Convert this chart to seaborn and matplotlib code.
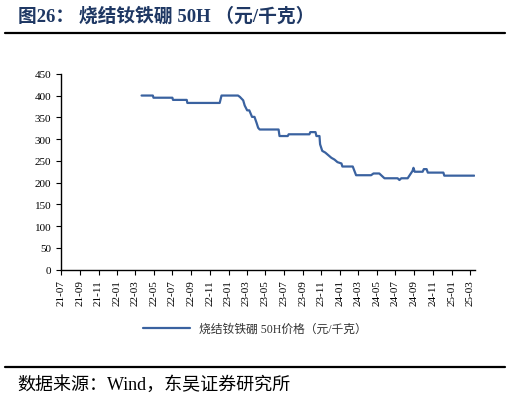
import pandas as pd
import seaborn as sns
import numpy as np
import matplotlib.pyplot as plt
import matplotlib.dates as mdates

# price of sintered NdFeB 50H
dates = ['2022-03-22', '2022-04-28', '2022-04-30', '2022-07-01', '2022-07-03',
         '2022-08-17', '2022-08-19', '2022-12-03', '2022-12-09', '2023-02-01',
         '2023-02-07', '2023-02-18', '2023-02-23', '2023-03-03', '2023-03-10',
         '2023-03-19', '2023-03-27', '2023-04-03', '2023-04-08', '2023-04-13',
         '2023-06-14', '2023-06-17', '2023-07-14', '2023-07-17', '2023-09-23',
         '2023-09-26', '2023-10-13', '2023-10-16', '2023-10-26', '2023-10-28',
         '2023-11-04', '2023-11-14', '2023-11-24', '2023-12-04', '2023-12-14',
         '2023-12-24', '2024-01-06', '2024-01-09', '2024-02-12', '2024-02-23',
         '2024-04-12', '2024-04-20', '2024-05-09', '2024-05-26', '2024-07-08',
         '2024-07-14', '2024-07-20', '2024-08-10', '2024-08-26', '2024-08-29',
         '2024-09-02', '2024-09-28', '2024-10-02', '2024-10-11', '2024-10-15',
         '2024-12-05', '2024-12-08', '2025-03-16']
prices = [400, 400, 395, 395, 390,
          390, 383, 383, 400, 400,
          397, 389, 377, 366, 366,
          351, 351, 337, 326, 322,
          322, 307, 307, 311, 311,
          316, 316, 307, 307, 288,
          273, 269, 263, 257, 253,
          247, 244, 237, 237, 217,
          217, 221, 221, 210, 210,
          206, 210, 210, 227, 234,
          225, 225, 231, 231, 223,
          223, 216, 216]

title = '图26： 烧结钕铁硼 50H （元/千克）'
series_name = '烧结钕铁硼 50H价格（元/千克）'
source = '数据来源：Wind，东吴证券研究所'

df = pd.DataFrame({'date': pd.to_datetime(dates), 'price': prices})

sns.set_style('ticks')
plt.rcParams['font.family'] = ['Liberation Serif', 'Noto Sans CJK SC', 'DejaVu Sans']

fig = plt.figure(figsize=(5.1, 4.02), dpi=100)
ax = fig.add_axes([0.1196, 0.3266, 0.8114, 0.4874])

sns.lineplot(data=df, x='date', y='price', ax=ax, color='#3A62A0',
             linewidth=1.6, label=series_name, legend=False)

ax.set_ylim(0, 450)
ax.set_yticks(np.arange(0, 451, 50))
ax.set_xlim(pd.Timestamp('2021-07-01'), pd.Timestamp('2025-03-18'))
ax.xaxis.set_major_locator(mdates.MonthLocator(bymonth=[1, 3, 5, 7, 9, 11]))
ax.xaxis.set_major_formatter(mdates.DateFormatter('%y-%m'))
plt.setp(ax.get_xticklabels(), rotation=90)
ax.tick_params(axis='both', labelsize=8, length=3.5, width=0.8, colors='black')
ax.set_xlabel('')
ax.set_ylabel('')
sns.despine(ax=ax)
for s in ['left', 'bottom']:
    ax.spines[s].set_color('black')
    ax.spines[s].set_linewidth(1.0)

h, l = ax.get_legend_handles_labels()
fig.legend(h, l, loc='center', bbox_to_anchor=(0.5, 0.18), frameon=False,
           fontsize=8.5, handlelength=4, labelcolor='#333333')

fig.text(0.035, 0.96, title, fontsize=13.5, fontweight='bold', color='#1F3864',
         va='center', ha='left')
fig.add_artist(plt.Line2D([0.01, 0.99], [0.916, 0.916], color='black', linewidth=1.6))
fig.add_artist(plt.Line2D([0.01, 0.99], [0.084, 0.084], color='black', linewidth=1.6))
fig.text(0.033, 0.042, source, fontsize=13, color='black', va='center', ha='left')

fig.savefig('out.png', dpi=100)
